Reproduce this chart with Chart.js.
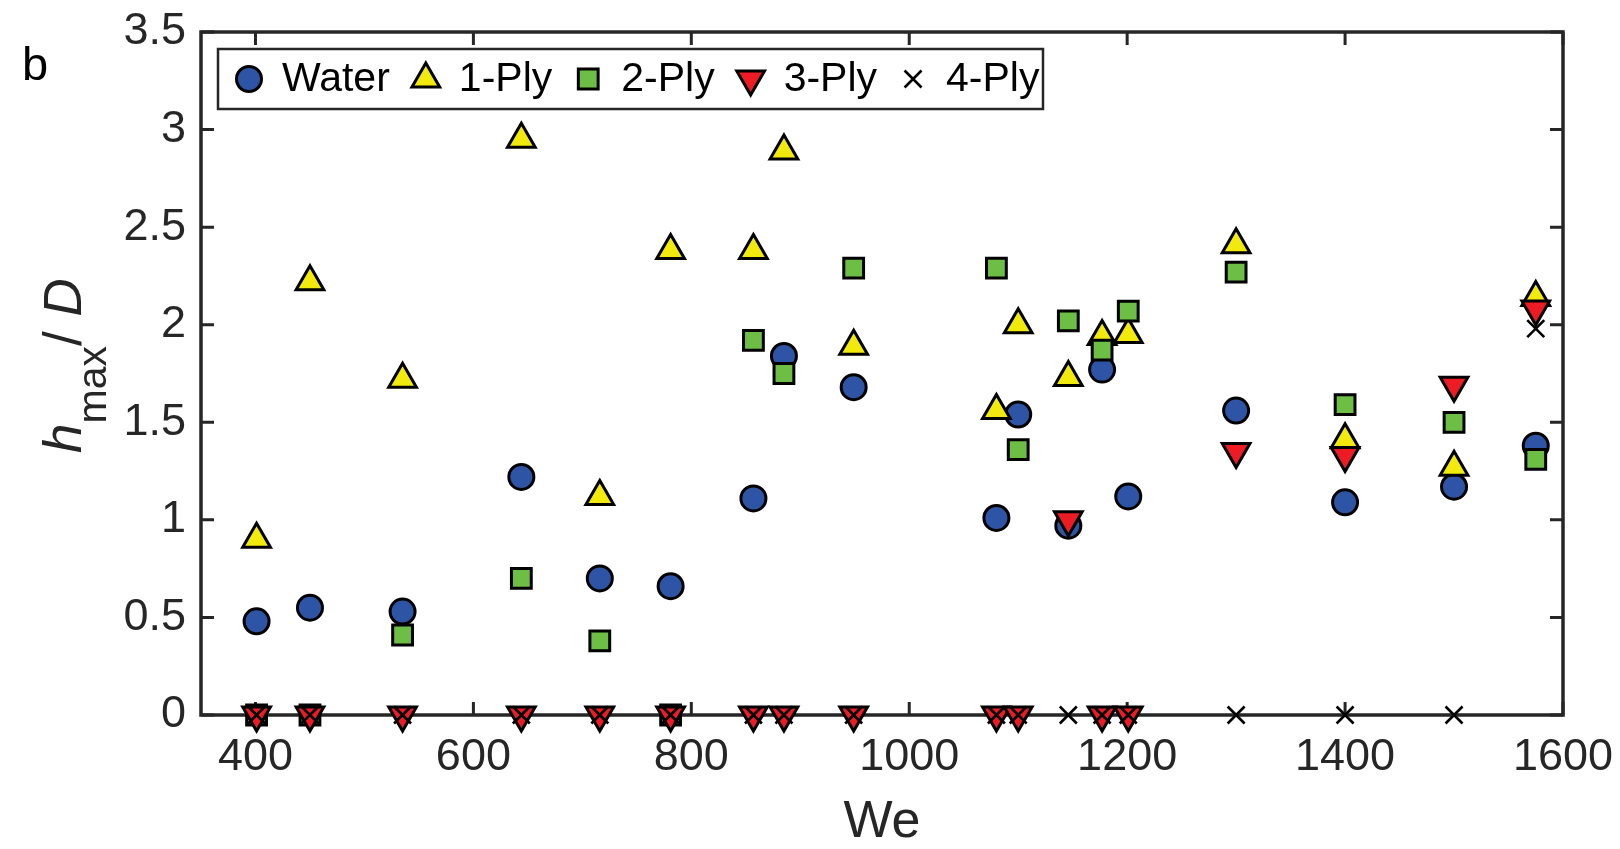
<!DOCTYPE html>
<html>
<head>
<meta charset="utf-8">
<script src="https://cdn.jsdelivr.net/npm/chart.js"></script>
<style>
  html, body { margin: 0; padding: 0; background: #fff; }
  #wrap { width: 1620px; height: 849px; }
</style>
</head>
<body>
<div id="wrap"><canvas id="chart" width="1620" height="849"></canvas></div>
<script>
/* DATA */
const weNumbers = [401, 450, 535, 644, 716, 781, 857, 885, 949, 1080, 1100, 1146, 1177, 1201, 1300, 1400, 1500, 1575];
const water = [0.48, 0.55, 0.53, 1.22, 0.70, 0.66, 1.11, 1.84, 1.68, 1.01, 1.54, 0.97, 1.77, 1.12, 1.56, 1.09, 1.17, 1.38];
const ply1  = [0.90, 2.22, 1.72, 2.95, 1.12, 2.38, 2.38, 2.89, 1.89, 1.56, 2.00, 1.73, 1.94, 1.95, 2.41, 1.41, 1.27, 2.14];
const ply2  = [0, 0, 0.41, 0.70, 0.38, 0, 1.92, 1.75, 2.29, 2.29, 1.36, 2.02, 1.87, 2.07, 2.27, 1.59, 1.50, 1.31];
const ply3  = [0, 0, 0, 0, 0, 0, 0, 0, 0, 0, 0, 1.00, 0, 0, 1.35, 1.33, 1.69, 2.08];
const ply4  = [0, 0, 0, 0, 0, 0, 0, 0, 0, 0, 0, 0, 0, 0, 0, 0, 0, 1.98];

const seriesNames = ["Water", "1-Ply", "2-Ply", "3-Ply", "4-Ply"];
const xTicks = [400, 600, 800, 1000, 1200, 1400, 1600];
const yTicks = [0, 0.5, 1, 1.5, 2, 2.5, 3, 3.5];

/* STYLE */
const FONT = "'Liberation Sans', Arial, Helvetica, sans-serif";
const AXIS_COLOR = "#262626";

function pts(ys) {
  return weNumbers.map((x, i) => ({ x: x, y: ys[i] }));
}

const markerStyles = [
  { pointStyle: "circle",   rotation: 0,   radius: 12.5, bg: "#2E55A5", bw: 3 },
  { pointStyle: "triangle", rotation: 0,   radius: 16,   bg: "#F3EA0D", bw: 3 },
  { pointStyle: "rect",     rotation: 0,   radius: 14,   bg: "#6CBE45", bw: 3 },
  { pointStyle: "triangle", rotation: 180, radius: 16,   bg: "#ED1C24", bw: 3 },
  { pointStyle: "crossRot", rotation: 0,   radius: 12,   bg: "#000000", bw: 2.6 },
];

const seriesValues = [water, ply1, ply2, ply3, ply4];

const datasets = seriesValues.map((vals, i) => {
  const m = markerStyles[i];
  return {
    label: seriesNames[i],
    data: pts(vals),
    pointStyle: m.pointStyle,
    rotation: m.rotation,
    pointRadius: m.radius,
    pointBackgroundColor: m.bg,
    pointBorderColor: "#000",
    pointBorderWidth: m.bw,
    pointHoverRadius: m.radius,
    showLine: false,
    clip: false,
    order: 5 - i, // later series drawn on top
  };
});

function noPad(s) {
  s.paddingTop = 0; s.paddingBottom = 0;
  s.paddingLeft = 0; s.paddingRight = 0;
}

/* PLUGINS */
const frameTicks = {
  id: "frameTicks",
  beforeDatasetsDraw(chart) {
    const { ctx, chartArea: a, scales } = chart;
    ctx.save();
    ctx.strokeStyle = AXIS_COLOR;
    ctx.lineWidth = 3;
    ctx.beginPath();
    xTicks.forEach((v) => {
      const px = scales.x.getPixelForValue(v);
      ctx.moveTo(px, a.bottom); ctx.lineTo(px, a.bottom - 13);
      ctx.moveTo(px, a.top); ctx.lineTo(px, a.top + 13);
    });
    yTicks.forEach((v) => {
      const py = scales.y.getPixelForValue(v);
      ctx.moveTo(a.left, py); ctx.lineTo(a.left + 13, py);
      ctx.moveTo(a.right, py); ctx.lineTo(a.right - 13, py);
    });
    ctx.stroke();
    ctx.lineWidth = 3.5;
    ctx.strokeRect(a.left, a.top, a.right - a.left, a.bottom - a.top);
    ctx.restore();
  },
};

const extras = {
  id: "extras",
  afterDraw(chart) {
    const { ctx } = chart;
    ctx.save();

    // panel letter
    ctx.fillStyle = "#000";
    ctx.font = "47px " + FONT;
    ctx.textBaseline = "alphabetic";
    ctx.textAlign = "left";
    ctx.fillText("b", 22, 80);

    // y axis title: h_max / D
    ctx.fillStyle = AXIS_COLOR;
    ctx.translate(81, 453);
    ctx.rotate(-Math.PI / 2);
    let x = 0;
    ctx.font = "italic 53px " + FONT;
    ctx.fillText("h", x, 0);
    x += ctx.measureText("h").width;
    ctx.font = "41px " + FONT;
    ctx.fillText("max", x, 25);
    x += ctx.measureText("max").width;
    ctx.font = "53px " + FONT;
    ctx.fillText("/ ", x, 0);
    x += ctx.measureText("/ ").width;
    ctx.font = "italic 53px " + FONT;
    ctx.fillText("D", x, 0);
    ctx.restore();

    // legend box
    ctx.save();
    const box = { l: 218, t: 49, r: 1043, b: 109 };
    ctx.fillStyle = "#fff";
    ctx.fillRect(box.l, box.t, box.r - box.l, box.b - box.t);
    ctx.strokeStyle = AXIS_COLOR;
    ctx.lineWidth = 2.5;
    ctx.strokeRect(box.l, box.t, box.r - box.l, box.b - box.t);
    const cy = (box.t + box.b) / 2;
    let mx = box.l + 31;
    ctx.font = "41px " + FONT;
    ctx.textBaseline = "middle";
    chart.data.datasets.forEach((ds, i) => {
      const m = markerStyles[i];
      ctx.fillStyle = m.bg;
      ctx.strokeStyle = "#000";
      ctx.lineWidth = m.bw;
      Chart.helpers.drawPoint(ctx, {
        pointStyle: m.pointStyle, rotation: m.rotation,
        radius: m.radius, borderWidth: m.bw,
      }, mx, cy);
      const tx = mx + 33;
      ctx.fillStyle = "#000";
      ctx.fillText(ds.label, tx, cy + 1);
      mx = tx + ctx.measureText(ds.label).width + 36;
    });
    ctx.restore();
  },
};

/* CHART */
new Chart(document.getElementById("chart"), {
  type: "scatter",
  data: { datasets: datasets },
  options: {
    responsive: false,
    animation: false,
    events: [],
    layout: { padding: { left: 0, top: 32, right: 57, bottom: 0 } },
    plugins: { legend: { display: false }, tooltip: { enabled: false } },
    scales: {
      x: {
        type: "linear",
        min: 350,
        max: 1600,
        afterBuildTicks: (s) => { s.ticks = xTicks.map((v) => ({ value: v })); },
        afterFit: (s) => { s.height = 134; noPad(s); },
        grid: { display: false, drawTicks: false },
        border: { display: false },
        ticks: {
          padding: 16,
          color: AXIS_COLOR,
          font: { family: FONT, size: 45 },
          callback: (v) => String(v),
          maxRotation: 0,
          autoSkip: false,
        },
        title: {
          display: true,
          text: "We",
          color: AXIS_COLOR,
          font: { family: FONT, size: 52, lineHeight: 1 },
          padding: { top: 0, bottom: 0 },
        },
      },
      y: {
        type: "linear",
        min: 0,
        max: 3.5,
        afterBuildTicks: (s) => { s.ticks = yTicks.map((v) => ({ value: v })); },
        afterFit: (s) => { s.width = 201; noPad(s); },
        grid: { display: false, drawTicks: false },
        border: { display: false },
        ticks: {
          padding: 15,
          color: AXIS_COLOR,
          font: { family: FONT, size: 45 },
          callback: (v) => String(v),
          autoSkip: false,
        },
      },
    },
  },
  plugins: [frameTicks, extras],
});
</script>
</body>
</html>
